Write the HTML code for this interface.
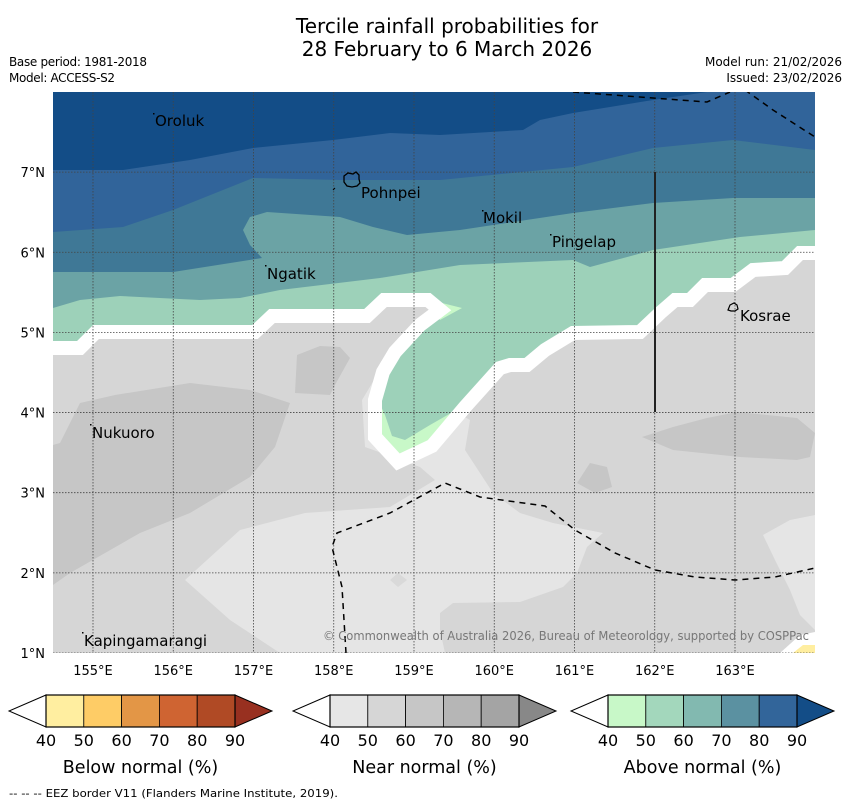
<!DOCTYPE html>
<html><head><meta charset="utf-8"><style>
body{margin:0;background:#fff;width:850px;height:804px;overflow:hidden;font-family:"Liberation Sans","DejaVu Sans",sans-serif}
svg text{font-family:"DejaVu Sans","Liberation Sans",sans-serif}
</style></head><body>
<svg id="chart" width="850" height="804" viewBox="0 0 850 804" xmlns="http://www.w3.org/2000/svg">
<text x="447" y="33" font-size="20" text-anchor="middle">Tercile rainfall probabilities for</text>
<text x="447" y="56" font-size="20" text-anchor="middle">28 February to 6 March 2026</text>
<text x="9" y="66" font-size="12" textLength="138">Base period: 1981-2018</text>
<text x="9" y="82" font-size="12" textLength="106">Model: ACCESS-S2</text>
<text x="842" y="66" font-size="12" text-anchor="end">Model run: 21/02/2026</text>
<text x="842" y="82" font-size="12" text-anchor="end">Issued: 23/02/2026</text>
<defs>
<clipPath id="mapclip"><rect x="53" y="92" width="762" height="561"/></clipPath>
<clipPath id="grayclip"><polygon points="53,348 80,348 96,332 255,332 272,316 367,316 384,300 428,300 440,310 420,325 395,352 383,372 375,400 375,437 398,462 432,446 465,407 500,368 510,365 527,365 545,350 573,333 640,332 660,313 675,300 690,300 705,285 733,285 753,270 785,268 800,253 815,253 815,653 53,653"/></clipPath>
</defs>
<g clip-path="url(#mapclip)">
<rect x="53" y="92" width="762" height="561" fill="#9dd1b9"/>
<polygon fill="#6ba3a5" points="53,92 815,92 815,230 740,237 653,250 590,267 573,260 460,265 380,278 280,290 240,298 200,300 120,296 80,300 53,308"/>
<polygon fill="#3f7896" points="53,92 815,92 815,198 733,198 653,203 573,213 460,230 407,235 373,227 340,217 267,212 250,217 243,230 250,245 262,258 173,272 53,272"/>
<polygon fill="#31649a" points="53,92 815,92 815,150 733,140 653,148 573,167 440,180 340,180 253,178 173,210 123,227 53,232"/>
<polygon fill="#134d87" points="53,92 707,92 653,100 573,113 540,120 523,130 440,135 390,133 333,140 253,148 190,160 123,170 53,170"/>
<polygon fill="#c8f8c8" points="430,300 462,308 440,320"/>
<polygon fill="#c8f8c8" points="378,400 382,440 398,456 432,440 465,405 430,425 405,440 392,436 385,415"/>
<g clip-path="url(#grayclip)">
<rect x="53" y="250" width="762" height="410" fill="#d6d6d6"/>
<polygon fill="#e5e5e5" points="185,580 240,530 305,513 390,507 435,480 420,467 365,447 362,400 380,370 470,420 465,450 493,493 520,513 553,523 603,533 587,547 577,573 563,587 520,602 453,603 440,613 440,630 445,653 280,653 230,620"/>
<polygon fill="#e5e5e5" points="763,535 790,520 815,515 815,630 800,615 790,590 775,560"/>
<polygon fill="#c6c6c6" points="53,445 60,443 80,403 115,395 190,383 250,390 290,403 275,447 250,477 190,513 140,533 70,573 53,585"/>
<polygon fill="#c6c6c6" points="297,355 320,346 340,347 350,358 335,385 330,395 295,393"/>
<polygon fill="#c6c6c6" points="642,437 673,427 707,418 737,412 797,418 815,433 810,457 797,460 740,457 673,450"/>
<polygon fill="#c6c6c6" points="577,483 590,463 607,467 612,487 595,493"/>
<polygon fill="#d9d9d9" points="390,580 398,573 407,580 398,587"/>
</g>
<polyline fill="none" stroke="#fff" stroke-width="14" stroke-linejoin="miter" points="40,348 80,348 96,332 255,332 272,316 367,316 384,300 428,300 440,310 420,325 395,352 383,372 375,400 375,437 398,462 432,446 465,407 500,368 510,365 527,365 545,350 573,333 640,332 660,313 675,300 690,300 705,285 733,285 753,270 785,268 800,253 830,253"/>
<polygon fill="#fff" points="780,653 800,635 815,632 815,653"/>
<polygon fill="#ffeea0" points="793,653 803,645 815,645 815,653"/>
<g id="grid"></g>
<polyline fill="none" stroke="#000" stroke-width="1.5" stroke-dasharray="6,5" points="573,92 653,98 707,102 730,92"/>
<polyline fill="none" stroke="#000" stroke-width="1.5" stroke-dasharray="6,5" points="745,90 773,110 815,137"/>
<polyline fill="none" stroke="#000" stroke-width="1.5" stroke-dasharray="6,5" points="346,653 342,587 332,547 337,533 390,513 445,483 480,497 545,506 575,530 615,553 655,570 695,577 735,580 775,577 815,568"/>
<line x1="655" y1="172" x2="655" y2="412" stroke="#222" stroke-width="2"/>
<path d="M344,176 l4,-3 l5,1 l3,-2 l3,3 l0,4 l1,4 l-3,3 l-5,1 l-5,-1 l-3,-4 z" fill="none" stroke="#000" stroke-width="1.3"/>
<path d="M333,190 l2,-2" stroke="#000" stroke-width="1"/>
<path d="M728,310 l2,-5 l4,-2 l3,2 l1,4 l-3,2 l-4,0 z" fill="none" stroke="#000" stroke-width="1.2"/>
<g fill="#000">
<rect x="153" y="113" width="1.5" height="1.5"/><rect x="482" y="210" width="1.5" height="1.5"/><rect x="550" y="234" width="1.5" height="1.5"/><rect x="265" y="265" width="1.5" height="1.5"/><rect x="90" y="424" width="1.5" height="1.5"/><rect x="82" y="632" width="1.5" height="1.5"/>
</g>
<g font-size="15" fill="#000">
<text x="155" y="126">Oroluk</text>
<text x="361" y="198">Pohnpei</text>
<text x="483" y="223">Mokil</text>
<text x="552" y="247">Pingelap</text>
<text x="267" y="279">Ngatik</text>
<text x="740" y="321">Kosrae</text>
<text x="92" y="438">Nukuoro</text>
<text x="84" y="646">Kapingamarangi</text>
</g>
<text x="323" y="640" font-size="12" fill="#777" textLength="486" lengthAdjust="spacingAndGlyphs">© Commonwealth of Australia 2026, Bureau of Meteorology, supported by COSPPac</text>
</g>
<g id="axes" font-size="13"></g>
<g id="colorbars"></g>
<text x="9" y="797" font-size="11" textLength="329" lengthAdjust="spacingAndGlyphs">--  --  -- EEZ border V11 (Flanders Marine Institute, 2019).</text>
</svg>
<script>
const lonTicks=[155,156,157,158,159,160,161,162,163];
const latTicks=[1,2,3,4,5,6,7];
const cbTicks=[40,50,60,70,80,90];
const belowColors=["#ffeea0","#fecc66","#e39646","#cf6432","#b04a25","#983020"];
const nearColors=["#e6e6e6","#d6d6d6","#c6c6c6","#b6b6b6","#a4a4a4","#888888"];
const aboveColors=["#c8f8c8","#a3d7bc","#82b9b0","#5b91a1","#32659a","#134d87"];
const cbTitles=["Below normal (%)","Near normal (%)","Above normal (%)"];
const NS="http://www.w3.org/2000/svg";
function xS(lon){return 93+(lon-155)*80.25;}
function yS(lat){return 653-(lat-1)*80.15;}
function mk(t,a,p){const e=document.createElementNS(NS,t);for(const k in a)e.setAttribute(k,a[k]);p.appendChild(e);return e;}
const grid=document.getElementById('grid'),axes=document.getElementById('axes');
lonTicks.forEach(l=>{
 const g=mk('line',{x1:xS(l),x2:xS(l),y1:92,y2:653,stroke:'#444','stroke-width':0.8,'stroke-dasharray':'1.5,1.5'},grid);
 
 
 const t=mk('text',{x:xS(l),y:675,'text-anchor':'middle'},axes);t.textContent=l+'°E';
 
 
});
latTicks.forEach(l=>{
 const g=mk('line',{x1:53,x2:815,y1:yS(l),y2:yS(l),stroke:'#444','stroke-width':0.8,'stroke-dasharray':'1.5,1.5'},grid);
 
 
 const t=mk('text',{x:45,y:yS(l)+5,'text-anchor':'end'},axes);t.textContent=l+'°N';
 
 
});
const cb=document.getElementById('colorbars');
const starts=[46,330,608];
[belowColors,nearColors,aboveColors].forEach((cols,i)=>{
 const x0=starts[i],w=189,bw=w/5,y0=695,h=32,x1=x0+w;
 const lt=mk('polygon',{points:`${x0},${y0} ${x0-37},${y0+h/2} ${x0},${y0+h}`,fill:'#fff',stroke:'#000','stroke-width':1},cb);
 
 
 for(let k=0;k<5;k++){
  const r=mk('rect',{x:x0+k*bw,y:y0,width:bw,height:h,fill:cols[k],stroke:'#000','stroke-width':0.8},cb);
  
  
 }
 const rt=mk('polygon',{points:`${x1},${y0} ${x1+37},${y0+h/2} ${x1},${y0+h}`,fill:cols[5],stroke:'#000','stroke-width':1},cb);
 
 
 const fr=mk('rect',{x:x0,y:y0,width:w,height:h,fill:'none',stroke:'#000','stroke-width':1.2},cb);
 
 
 cbTicks.forEach((v,k)=>{
  const t=mk('text',{x:x0+k*bw,y:746,'text-anchor':'middle','font-size':16},cb);t.textContent=v;
  
  
 });
 const tt=mk('text',{x:x0+w/2,y:773,'text-anchor':'middle','font-size':17.5},cb);tt.textContent=cbTitles[i];
 
 
});
</script>
</body></html>
